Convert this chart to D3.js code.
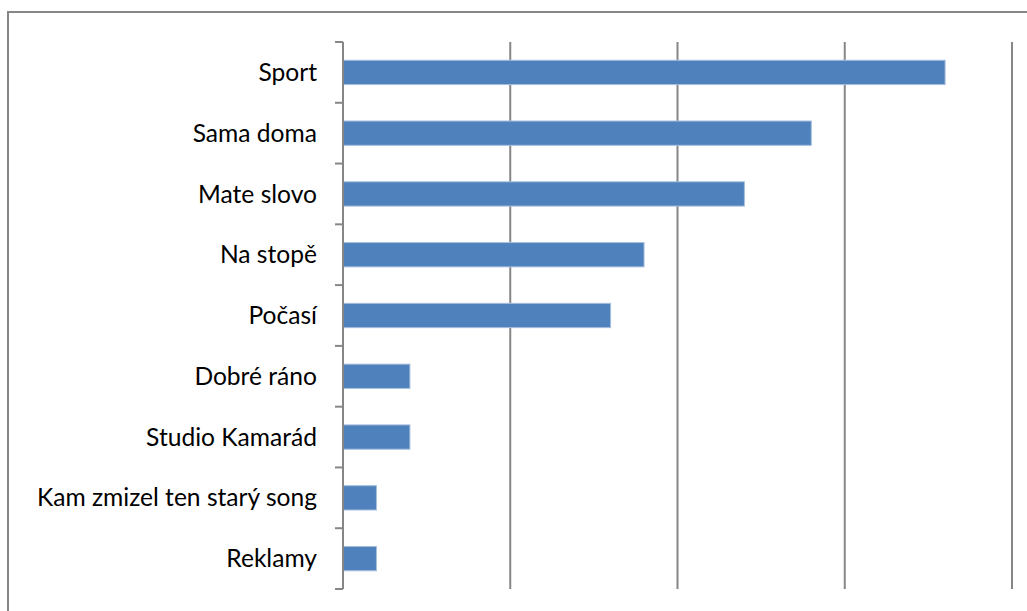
<!DOCTYPE html>
<html>
<head>
<meta charset="utf-8">
<script src="https://cdn.jsdelivr.net/npm/d3@7"></script>
<style>
  body { margin: 0; background: #fff; }
  .label { font-family: Lato, "Open Sans", sans-serif; font-size: 24.6px; fill: #000; }
</style>
</head>
<body>
<script>
const categories = ['Sport', 'Sama doma', 'Mate slovo', 'Na stopě', 'Počasí', 'Dobré ráno', 'Studio Kamarád', 'Kam zmizel ten starý song', 'Reklamy']
const values = [18, 14, 12, 9, 8, 2, 2, 1, 1]
const xTicks = [0, 5, 10, 15, 20]

const w = 1027
const h = 611
const margin = { top: 42, right: 15, bottom: 22, left: 343 }

const svg = d3.select('body').append('svg')
    .attr('width', w)
    .attr('height', h)

// chart frame (runs past the right and bottom edges)
svg.append('rect')
    .attr('x', 8)
    .attr('y', 12)
    .attr('width', w + 10)
    .attr('height', h + 10)
    .attr('fill', 'none')
    .attr('stroke', '#868686')
    .attr('stroke-width', 2)

const x = d3.scaleLinear()
    .domain([0, 20])
    .range([margin.left, 1012])

const y = d3.scaleBand()
    .domain(categories)
    .range([margin.top, h - margin.bottom])
    .paddingInner(0.6)
    .paddingOuter(0.3)

const yEdge = d3.scaleLinear()
    .domain([0, categories.length])
    .range([margin.top, h - margin.bottom])

// vertical gridlines
svg.selectAll('.grid')
    .data(xTicks.slice(1))
    .enter()
    .append('line')
    .attr('x1', d => x(d))
    .attr('x2', d => x(d))
    .attr('y1', margin.top)
    .attr('y2', h - margin.bottom)
    .attr('stroke', '#868686')
    .attr('stroke-width', 2)

// bars
svg.selectAll('.bar')
    .data(values)
    .enter()
    .append('rect')
    .attr('x', x(0))
    .attr('y', (d, i) => y(categories[i]))
    .attr('width', d => x(d) - x(0))
    .attr('height', y.bandwidth())
    .attr('fill', '#4f81bd')
    .attr('stroke', '#a7bfde')
    .attr('stroke-width', 1)

// category axis
svg.append('line')
    .attr('x1', x(0))
    .attr('x2', x(0))
    .attr('y1', margin.top)
    .attr('y2', h - margin.bottom)
    .attr('stroke', '#868686')
    .attr('stroke-width', 2)

svg.selectAll('.tick')
    .data(d3.range(categories.length + 1))
    .enter()
    .append('line')
    .attr('x1', x(0) - 8)
    .attr('x2', x(0))
    .attr('y1', d => yEdge(d))
    .attr('y2', d => yEdge(d))
    .attr('stroke', '#868686')
    .attr('stroke-width', 2)

svg.selectAll('.label')
    .data(categories)
    .enter()
    .append('text')
    .attr('class', 'label')
    .attr('x', x(0) - 26)
    .attr('y', d => y(d) + y.bandwidth() / 2)
    .attr('dy', '0.35em')
    .attr('text-anchor', 'end')
    .text(d => d)
</script>
</body>
</html>
